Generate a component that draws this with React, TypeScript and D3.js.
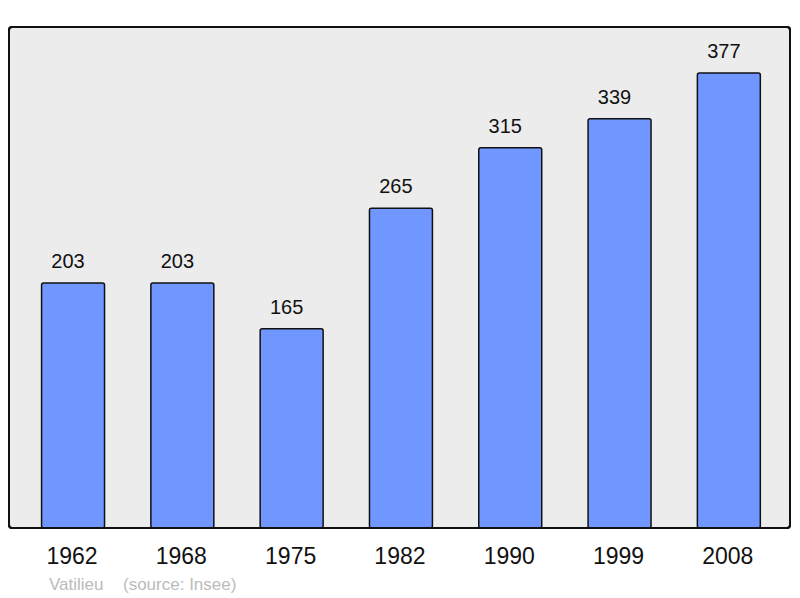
import React from "react";
import { scaleBand, scaleLinear } from "d3";

const years = ["1962", "1968", "1975", "1982", "1990", "1999", "2008"];
const population = [203, 203, 165, 265, 315, 339, 377];

const App = () => {
    const width = 800;
    const height = 598;
    const baseY = 528;

    const x = scaleBand<string>()
        .domain(years)
        .range([18.4, 783.5])
        .paddingInner(0.424)
        .paddingOuter(0.212);

    const y = scaleLinear().domain([0, 377]).range([baseY, 73]);

    const font = "'Liberation Sans', Arial, sans-serif";

    return (
        <svg
            width={width}
            height={height}
            style={{ position: "absolute", left: 0, top: 0, background: "#fff" }}
            fontFamily={font}
        >
            <rect x={9} y={27} width={781} height={501} rx={3} fill="#ececec" stroke="#111" strokeWidth={2} />
            {years.map((yr, i) => (
                <g key={yr}>
                    <rect
                        x={x(yr)}
                        y={y(population[i])}
                        width={x.bandwidth()}
                        height={baseY - y(population[i])}
                        rx={2}
                        fill="#7096ff"
                        stroke="#111"
                        strokeWidth={1.5}
                    />
                    <text
                        x={(x(yr) as number) + x.bandwidth() / 2 - 5}
                        y={y(population[i]) - 15}
                        textAnchor="middle"
                        fontSize={20}
                        fill="#111"
                    >
                        {population[i]}
                    </text>
                    <text
                        x={(x(yr) as number) + x.bandwidth() / 2 - 1}
                        y={564}
                        textAnchor="middle"
                        fontSize={23}
                        fill="#111"
                    >
                        {yr}
                    </text>
                </g>
            ))}
            <rect x={9} y={27} width={781} height={501} rx={3} fill="none" stroke="#111" strokeWidth={2} />
            <text x={49} y={590} fontSize={17} fill="#bbb">
                Vatilieu
            </text>
            <text x={123} y={590} fontSize={17} fill="#bbb">
                (source: Insee)
            </text>
        </svg>
    );
};

export default App;
